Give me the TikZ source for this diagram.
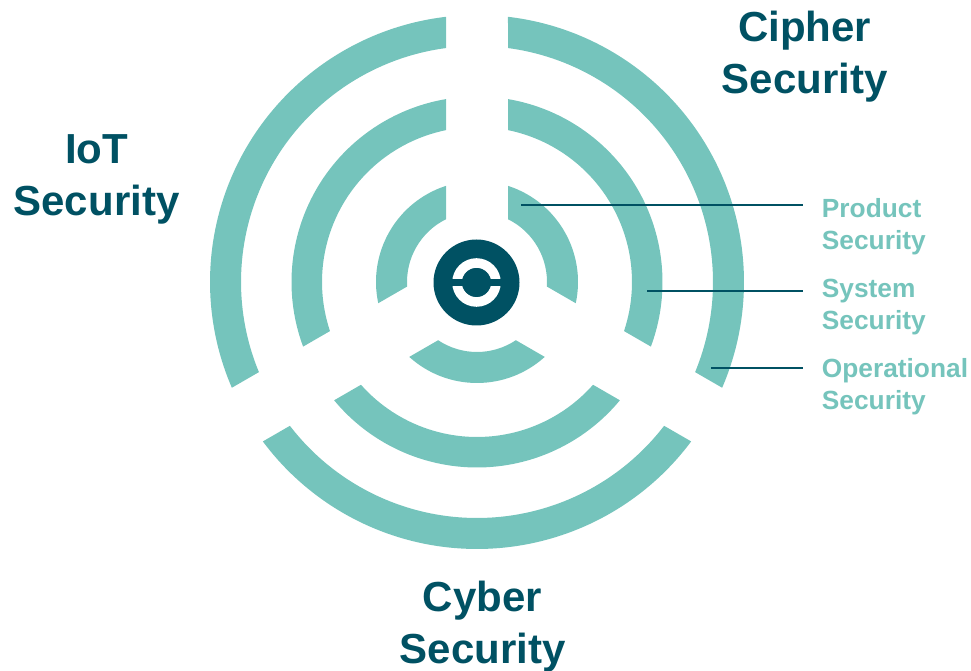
\documentclass[tikz,border=0pt]{standalone}
\usepackage{fontspec}
\setmainfont{Liberation Sans}
\definecolor{ringteal}{HTML}{75C4BC}
\definecolor{deepteal}{HTML}{005163}
\tikzset{
  title/.style={text=deepteal,font=\fontsize{42}{52}\selectfont\bfseries,align=center,inner sep=0pt},
  lbl/.style={text=ringteal,font=\fontsize{26.3}{32}\selectfont\bfseries,align=left,inner sep=0pt,anchor=west},
  leader/.style={draw=deepteal,line width=2.4pt}
}
\begin{document}
\begin{tikzpicture}[x=1pt,y=1pt]
\useasboundingbox (0,0) rectangle (971,671);
\coordinate (c) at (477,389);
% three groups of ring segments
\foreach \rot in {0,120,240}{
  \foreach \ri/\ro in {70/101,155/185.5,236/267}{
    \pgfmathsetmacro{\ai}{asin(31/\ri)}
    \pgfmathsetmacro{\ao}{asin(31/\ro)}
    \fill[ringteal,shift={(c)},rotate=\rot]
      (90-\ao:\ro) arc[start angle=90-\ao,end angle=-30+\ao,radius=\ro]
      -- (-30+\ai:\ri) arc[start angle=-30+\ai,end angle=90-\ai,radius=\ri] -- cycle;
  }
}
% logo
\node[circle,fill=deepteal,minimum size=86pt,inner sep=0pt] (logo) at (476.5,388.5) {};
\fill[white,even odd rule] (logo.center) circle[radius=24.3] (logo.center) circle[radius=14.7];
\fill[deepteal] ([xshift=-26pt,yshift=-3.8pt]logo.center) rectangle ([xshift=26pt,yshift=3.8pt]logo.center);
% titles
\node[title] (cipher) at (804.5,614.5) {Cipher\\Security};
\node[title] (iot) at (96.5,491.5) {IoT\\Security};
\node[title] (cyber) at (482.5,44) {Cyber\\Security};
% labels
\node[lbl] (product) at (821.7,444) {Product\\Security};
\node[lbl] (system) at (821.7,364) {System\\Security};
\node[lbl] (oper) at (821.7,284) {Operational\\Security};
% leaders
\coordinate (p0) at (521,466); \coordinate (p1) at (803,466);
\coordinate (s0) at (647,380); \coordinate (s1) at (803,380);
\coordinate (o0) at (711,303); \coordinate (o1) at (803,303);
\draw[leader] (p0) -- (p1);
\draw[leader] (s0) -- (s1);
\draw[leader] (o0) -- (o1);
\end{tikzpicture}
\end{document}
